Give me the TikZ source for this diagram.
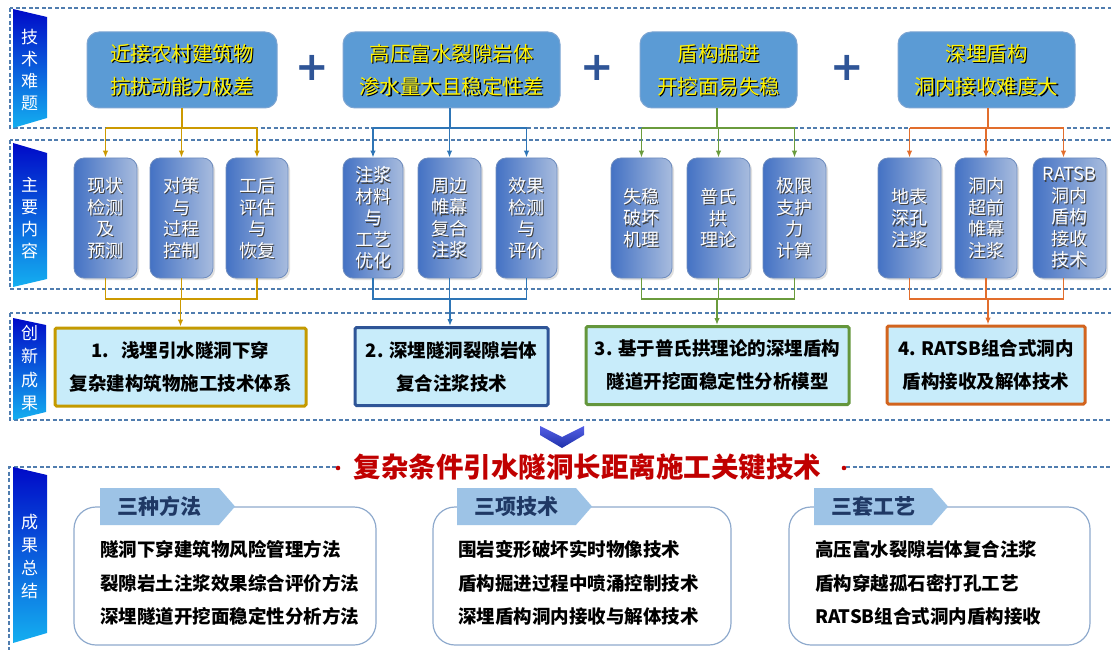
\documentclass[tikz,border=0pt]{standalone}
\usepackage{fontspec}
\setmainfont{Noto Sans CJK SC}
\newfontfamily\plusfont{DejaVu Sans}
\usetikzlibrary{shadows,arrows.meta,calc,shapes.symbols}

\definecolor{dashc}{RGB}{80,125,175}
\definecolor{topfill}{RGB}{91,155,213}
\definecolor{topdraw}{RGB}{125,165,210}
\definecolor{gold}{RGB}{204,153,0}
\definecolor{blu}{RGB}{46,117,182}
\definecolor{grn}{RGB}{106,155,60}
\definecolor{org}{RGB}{226,110,45}
\definecolor{rbA}{RGB}{196,154,0}
\definecolor{rbB}{RGB}{47,85,151}
\definecolor{rbC}{RGB}{100,150,60}
\definecolor{rbD}{RGB}{210,100,30}
\definecolor{resfill}{RGB}{200,236,250}
\definecolor{plusc}{RGB}{47,85,151}
\definecolor{tagfill}{RGB}{157,195,230}
\definecolor{tagtext}{RGB}{31,56,100}
\definecolor{botdraw}{RGB}{143,170,205}
\definecolor{titlered}{RGB}{192,0,0}
\definecolor{banTop}{RGB}{0,10,200}
\definecolor{banBot}{RGB}{20,175,240}
\definecolor{smL}{RGB}{68,114,196}
\definecolor{smR}{RGB}{168,188,222}
\definecolor{smdraw}{RGB}{110,140,190}
\definecolor{chevA}{RGB}{85,95,230}
\definecolor{chevB}{RGB}{30,50,170}

\newcommand\shtxt[5]{%
  \node[#3, text=#4] (#1s) at ([shift={(1.3,1.3)}]#2) {#5};
  \node[#3] (#1) at (#2) {#5};}

\begin{document}
\begin{tikzpicture}[x=1pt,y=-1pt,
  >={Latex[length=7pt,width=5.5pt]},
  dashbox/.style={draw=dashc, dash pattern=on 4pt off 2.5pt, line width=1.1pt},
  topbox/.style={rounded corners=12pt, fill=topfill, draw=topdraw, line width=1pt, minimum height=76pt},
  toptext/.style={text=yellow, align=center, inner sep=0pt, font=\fontsize{20.5}{33}\selectfont},
  smallbox/.style={rounded corners=10pt, left color=smL, right color=smR, draw=smdraw, line width=0.8pt,
      minimum height=120pt, drop shadow={opacity=0.25, shadow xshift=2pt, shadow yshift=-2pt}},
  smtext/.style={text=white, align=center, inner sep=0pt, font=\fontsize{18}{21.5}\selectfont},
  bantext/.style={text=white, align=center, inner sep=0pt, font=\fontsize{17}{22}\selectfont},
  con/.style={line width=1.8pt},
  res/.style={draw, line width=3pt, fill=resfill, minimum height=78pt, align=center, rounded corners=1.5pt,
      font=\fontsize{18.5}{33}\selectfont\bfseries},
  botbox/.style={rounded corners=22pt, draw=botdraw, line width=1.2pt, fill=white, minimum height=138pt},
  tag/.style={shape=signal, signal to=east, signal pointer angle=98, fill=tagfill, draw=none,
      minimum height=37pt, text=tagtext, font=\fontsize{21}{24}\selectfont\bfseries},
  btext/.style={align=left, anchor=west, inner sep=0pt, font=\fontsize{18.5}{33.5}\selectfont\bfseries},
  plus/.style={text=plusc, inner sep=0pt, font=\plusfont\bfseries\fontsize{40}{40}\selectfont}
]
\useasboundingbox (0,0) rectangle (1111,650);
\clip (0,0) rectangle (1111,650);

% section frames
\draw[dashbox] (10,8) rectangle (1120,128);
\draw[dashbox] (10,140) rectangle (1120,289);
\draw[dashbox] (10,313) rectangle (1120,420);
\draw[dashbox] (336,467) -- (9,467) -- (9,660);
\draw[dashbox] (846,467) -- (1120,467);

% banners
\shade[top color=banTop, bottom color=banBot] (13,9) -- (47,17) -- (47,118) -- (13,128) -- cycle;
\shade[top color=banTop, bottom color=banBot] (13,143) -- (47,153) -- (47,279) -- (13,287) -- cycle;
\shade[top color=banTop, bottom color=banBot] (13,318) -- (46,325) -- (46,412) -- (13,420) -- cycle;
\shade[top color=banTop, bottom color=banBot] (13,467) -- (47,475) -- (47,633) -- (13,643) -- cycle;
\node[bantext] (ban1) at (29.5,70) {技\\术\\难\\题};
\node[bantext] (ban2) at (29.5,218.5) {主\\要\\内\\容};
\node[bantext, font=\fontsize{17}{23.5}\selectfont] (ban3) at (29.5,368) {创\\新\\成\\果};
\node[bantext, font=\fontsize{17}{23}\selectfont] (ban4) at (29.5,557) {成\\果\\总\\结};

% top boxes
\node[topbox, minimum width=190pt] (p1) at (182,70) {};
\node[topbox, minimum width=217pt] (p2) at (451.5,70) {};
\node[topbox, minimum width=157pt] (p3) at (718.5,70) {};
\node[topbox, minimum width=177pt] (p4) at (986.5,70) {};
\shtxt{p1t}{p1.center}{toptext}{black}{近接农村建筑物\\抗扰动能力极差}
\shtxt{p2t}{p2.center}{toptext}{black}{高压富水裂隙岩体\\渗水量大且稳定性差}
\shtxt{p3t}{p3.center}{toptext}{black}{盾构掘进\\开挖面易失稳}
\shtxt{p4t}{p4.center}{toptext}{black}{深埋盾构\\洞内接收难度大}
\node[plus] (pl1) at (312,68) {+};
\node[plus] (pl2) at (597,68) {+};
\node[plus] (pl3) at (847,68) {+};

% small boxes
\node[smallbox, minimum width=63pt] (a) at (105.5,218) {};
\node[smallbox, minimum width=63pt] (b) at (181.5,218) {};
\node[smallbox, minimum width=62pt] (c) at (257,218) {};
\node[smallbox, minimum width=60pt] (d) at (373,218) {};
\node[smallbox, minimum width=63pt] (e) at (449.5,218) {};
\node[smallbox, minimum width=61pt] (f) at (526.5,218) {};
\node[smallbox, minimum width=61pt] (g) at (641.5,218) {};
\node[smallbox, minimum width=63pt] (h) at (718.5,218) {};
\node[smallbox, minimum width=63pt] (i) at (794.5,218) {};
\node[smallbox, minimum width=63pt] (j) at (909.5,218) {};
\node[smallbox, minimum width=62pt] (k) at (986,218) {};
\node[smallbox, minimum width=73pt] (l) at (1069.5,218) {};
\shtxt{at}{a.center}{smtext}{black!75}{现状\\检测\\及\\预测}
\shtxt{bt}{b.center}{smtext}{black!75}{对策\\与\\过程\\控制}
\shtxt{ct}{c.center}{smtext}{black!75}{工后\\评估\\与\\恢复}
\shtxt{dt}{d.center}{smtext}{black!75}{注浆\\材料\\与\\工艺\\优化}
\shtxt{et}{e.center}{smtext}{black!75}{周边\\帷幕\\复合\\注浆}
\shtxt{ft}{f.center}{smtext}{black!75}{效果\\检测\\与\\评价}
\shtxt{gt}{g.center}{smtext}{black!75}{失稳\\破坏\\机理}
\shtxt{ht}{h.center}{smtext}{black!75}{普氏\\拱\\理论}
\shtxt{it}{i.center}{smtext}{black!75}{极限\\支护\\力\\计算}
\shtxt{jt}{j.center}{smtext}{black!75}{地表\\深孔\\注浆}
\shtxt{kt}{k.center}{smtext}{black!75}{洞内\\超前\\帷幕\\注浆}
\shtxt{lt}{l.center}{smtext}{black!75}{RATSB\\洞内\\盾构\\接收\\技术}

% result boxes
\node[res, draw=rbA, minimum width=251pt] (r1) at (180.5,367) {1.\hspace{12pt}浅埋引水隧洞下穿\\复杂建构筑物施工技术体系};
\node[res, draw=rbB, minimum width=193pt] (r2) at (451.5,366.5) {2. 深埋隧洞裂隙岩体\\复合注浆技术};
\node[res, draw=rbC, minimum width=263pt] (r3) at (717.5,365.5) {3. 基于普氏拱理论的深埋盾构\\隧道开挖面稳定性分析模型};
\node[res, draw=rbD, minimum width=198pt] (r4) at (986,365) {4. RATSB组合式洞内\\盾构接收及解体技术};

% connectors
\coordinate (u1) at (182,128);
\coordinate (v1) at (182,299);
\draw[con, gold] (p1.south) -- (u1);
\draw[con, gold] (u1 -| a.north) -- (u1 -| c.north);
\draw[con, gold, ->] (u1 -| a.north) -- (a.north);
\draw[con, gold, ->] (u1 -| b.north) -- (b.north);
\draw[con, gold, ->] (u1 -| c.north) -- (c.north);
\draw[con, gold] (a.south) -- (a.south |- v1) -- (c.south |- v1) -- (c.south);
\draw[con, gold] (b.south) -- (b.south |- v1);
\draw[con, gold, ->] (v1 -| r1.north) -- (r1.north);

\coordinate (u2) at (450,128);
\coordinate (v2) at (450,299);
\draw[con, blu] (p2.south -| u2) -- (u2);
\draw[con, blu] (u2 -| d.north) -- (u2 -| f.north);
\draw[con, blu, ->] (u2 -| d.north) -- (d.north);
\draw[con, blu, ->] (u2 -| e.north) -- (e.north);
\draw[con, blu, ->] (u2 -| f.north) -- (f.north);
\draw[con, blu] (d.south) -- (d.south |- v2) -- (f.south |- v2) -- (f.south);
\draw[con, blu] (e.south) -- (e.south |- v2);
\draw[con, blu, ->] (v2) -- (r2.north -| v2);

\coordinate (u3) at (717,128);
\coordinate (v3) at (717,299);
\draw[con, grn] (p3.south -| u3) -- (u3);
\draw[con, grn] (u3 -| g.north) -- (u3 -| i.north);
\draw[con, grn, ->] (u3 -| g.north) -- (g.north);
\draw[con, grn, ->] (u3 -| h.north) -- (h.north);
\draw[con, grn, ->] (u3 -| i.north) -- (i.north);
\draw[con, grn] (g.south) -- (g.south |- v3) -- (i.south |- v3) -- (i.south);
\draw[con, grn] (h.south) -- (h.south |- v3);
\draw[con, grn, ->] (v3) -- (r3.north -| v3);

\coordinate (u4) at (988,128);
\coordinate (v4) at (988,299);
\coordinate (lN) at ($(l.north)+(-6,0)$);
\coordinate (lS) at ($(l.south)+(-6,0)$);
\draw[con, org] (p4.south -| u4) -- (u4);
\draw[con, org] (u4 -| j.north) -- (u4 -| lN);
\draw[con, org, ->] (u4 -| j.north) -- (j.north);
\draw[con, org, ->] (u4 -| k.north) -- (k.north);
\draw[con, org, ->] (u4 -| lN) -- (lN);
\draw[con, org] (j.south) -- (j.south |- v4) -- (lS |- v4) -- (lS);
\draw[con, org] (k.south) -- (k.south |- v4);
\draw[con, org, ->] (v4) -- (r4.north -| v4);

% chevron
\shade[top color=chevA, bottom color=chevB] (540,426) -- (562,437) -- (584,426) -- (584,435) -- (562,448) -- (540,435) -- cycle;

% title
\node[text=titlered, inner sep=0pt, font=\fontsize{27.5}{30}\selectfont\bfseries] (ttl) at (587.5,467) {复杂条件引水隧洞长距离施工关键技术};
\fill[titlered] (338,468) circle (2.3);
\fill[titlered] (844,468) circle (2.3);

% summary boxes
\node[botbox, minimum width=302pt] (s1) at (225,576) {};
\node[botbox, minimum width=298pt] (s2) at (582,576) {};
\node[botbox, minimum width=301pt] (s3) at (939.5,576) {};
\node[tag, minimum width=135pt] (tg1) at (159.5,506.5) {三种方法};
\node[tag, minimum width=135pt] (tg2) at (516.5,506.5) {三项技术};
\node[tag, minimum width=134pt] (tg3) at (873,506.5) {三套工艺};
\node[btext] (s1t) at (100,583) {隧洞下穿建筑物风险管理方法\\裂隙岩土注浆效果综合评价方法\\深埋隧道开挖面稳定性分析方法};
\node[btext] (s2t) at (458,583) {围岩变形破坏实时物像技术\\盾构掘进过程中喷涌控制技术\\深埋盾构洞内接收与解体技术};
\node[btext] (s3t) at (815,583) {高压富水裂隙岩体复合注浆\\盾构穿越孤石密打孔工艺\\RATSB组合式洞内盾构接收};
\end{tikzpicture}
\end{document}
